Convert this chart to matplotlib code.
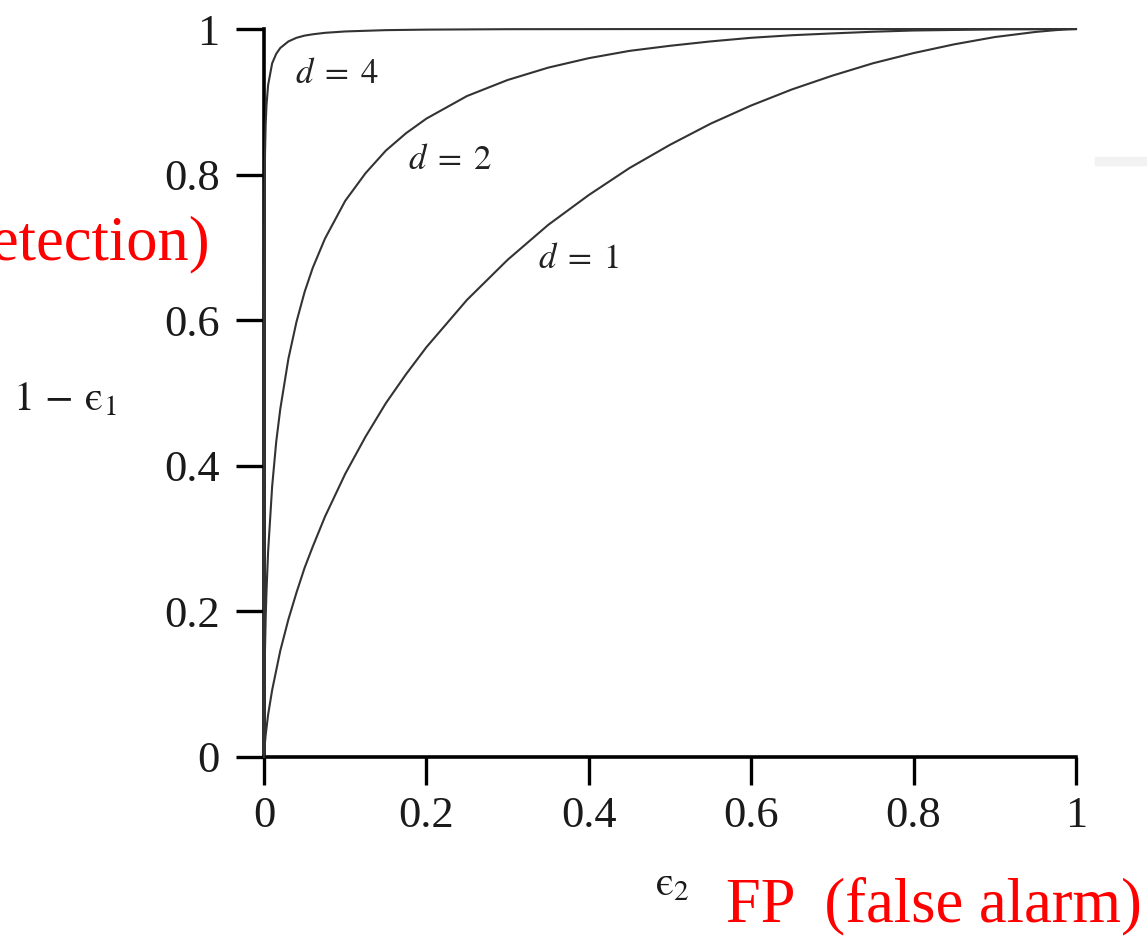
import matplotlib
matplotlib.use("Agg")
import matplotlib.pyplot as plt
from matplotlib.patches import Rectangle

plt.rcParams['font.family'] = ['Liberation Serif', 'DejaVu Serif']
plt.rcParams['mathtext.fontset'] = 'stix'

# False-alarm rate (epsilon_2) and detection rate (1 - epsilon_1)
fp_d1 = [0.0, 0.0001, 0.0005, 0.001, 0.002, 0.005, 0.01, 0.02, 0.03, 0.04, 0.05, 0.06, 0.075,
         0.1, 0.125, 0.15, 0.175, 0.2, 0.25, 0.3, 0.35, 0.4, 0.45, 0.5, 0.55, 0.6, 0.65, 0.7,
         0.75, 0.8, 0.85, 0.9, 0.95, 0.975, 0.99, 1.0]
tp_d1 = [0.0, 0.0033, 0.011, 0.018, 0.030, 0.058, 0.092, 0.146, 0.189, 0.226, 0.260, 0.289, 0.330,
         0.389, 0.440, 0.486, 0.526, 0.563, 0.628, 0.683, 0.731, 0.772, 0.809, 0.841, 0.870, 0.895,
         0.917, 0.936, 0.953, 0.967, 0.979, 0.989, 0.996, 0.9985, 0.9996, 1.0]

fp_d2 = [0.0, 0.00001, 0.0001, 0.0002, 0.0005, 0.001, 0.002, 0.003, 0.005, 0.01, 0.015, 0.02,
         0.03, 0.04, 0.05, 0.06, 0.075, 0.1, 0.125, 0.15, 0.175, 0.2, 0.25, 0.3, 0.35, 0.4, 0.45,
         0.5, 0.55, 0.6, 0.65, 0.7, 0.75, 0.8, 0.9, 1.0]
tp_d2 = [0.0, 0.012, 0.043, 0.062, 0.098, 0.138, 0.190, 0.227, 0.282, 0.372, 0.433, 0.478,
         0.547, 0.598, 0.639, 0.672, 0.712, 0.764, 0.802, 0.833, 0.857, 0.877, 0.908, 0.930, 0.947,
         0.960, 0.970, 0.977, 0.983, 0.988, 0.9915, 0.994, 0.9963, 0.998, 0.9995, 1.0]

fp_d4 = [0.0, 1e-9, 1e-8, 1e-7, 1e-6, 3e-6, 0.00001, 0.00003, 0.0001, 0.0003, 0.0005, 0.001,
         0.002, 0.003, 0.005, 0.01, 0.015, 0.02, 0.03, 0.04, 0.05, 0.06, 0.075, 0.1, 0.15, 0.2,
         0.3, 0.5, 1.0]
tp_d4 = [0.0, 0.023, 0.054, 0.115, 0.226, 0.300, 0.395, 0.495, 0.611, 0.715, 0.761, 0.819,
         0.869, 0.895, 0.923, 0.953, 0.966, 0.974, 0.983, 0.988, 0.991, 0.9928, 0.9948, 0.9967,
         0.9985, 0.9992, 0.9998, 1.0, 1.0]

curve_labels = [r'$d\;=\;4$', r'$d\;=\;2$', r'$d\;=\;1$']
label_pos = [(0.09, 0.937), (0.229, 0.82), (0.387, 0.683)]

xticks = [0, 0.2, 0.4, 0.6, 0.8, 1]
xticklabels = ['0', '0.2', '0.4', '0.6', '0.8', '1']
yticks = [0, 0.2, 0.4, 0.6, 0.8, 1]
yticklabels = ['0', '0.2', '0.4', '0.6', '0.8', '1']

fig = plt.figure(figsize=(11.47, 9.40), dpi=100)
ax = fig.add_axes([0.2302, 0.1947, 0.9381 - 0.2302, 0.9691 - 0.1947])

for fp, tp in [(fp_d1, tp_d1), (fp_d2, tp_d2), (fp_d4, tp_d4)]:
    ax.plot(fp, tp, color='#333333', lw=1.5, clip_on=False, zorder=3,
            solid_joinstyle='round')

for txt, (x, y) in zip(curve_labels, label_pos):
    ax.text(x, y, txt, fontsize=25, ha='center', va='center', color='#222222')

ax.set_xlim(0, 1)
ax.set_ylim(0, 1)
for s in ['top', 'right']:
    ax.spines[s].set_visible(False)
for s in ['left', 'bottom']:
    ax.spines[s].set_linewidth(2.6)
    ax.spines[s].set_zorder(2)
ax.set_xticks(xticks)
ax.set_xticklabels(xticklabels)
ax.set_yticks(yticks)
ax.set_yticklabels(yticklabels)
ax.tick_params(direction='out', length=20, width=2.4, labelsize=32, color='black',
               labelcolor='#1a1a1a')
ax.tick_params(axis='y', pad=12)
ax.tick_params(axis='x', pad=8)

fig.text(65 / 1147, 1 - 400 / 940, '$1\\,-\\,\\mathrm{\u03f5}_1$', fontsize=30, ha='center',
         va='center', color='#1a1a1a')
fig.text(672 / 1147, 1 - 885 / 940, '$\\mathrm{\u03f5}_2$', fontsize=30, ha='center',
         va='center', color='#1a1a1a')

fig.text(210 / 1147, 1 - 245 / 940, 'TP  (detection)', fontsize=45, ha='right', va='center',
         color='red')
fig.text(1142 / 1147, 1 - 935 / 940, 'FP  (false alarm)', fontsize=45, ha='right', va='bottom',
         color='red')

fig.patches.append(Rectangle((1095 / 1147, 1 - 165 / 940), 52 / 1147, 8 / 940,
                             transform=fig.transFigure, color='#f2f2f2', zorder=0))

fig.savefig('out.png', dpi=100)
